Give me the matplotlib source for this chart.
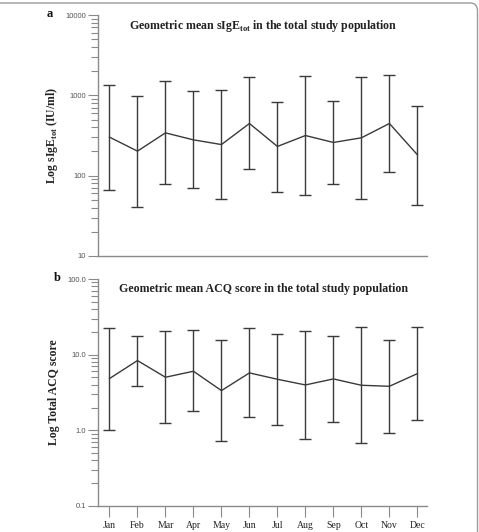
import matplotlib
matplotlib.use("Agg")
import matplotlib.pyplot as plt
from matplotlib.patches import FancyBboxPatch
from matplotlib.ticker import LogLocator, NullFormatter

plt.rcParams['mathtext.fontset'] = 'custom'
plt.rcParams['mathtext.rm'] = 'Liberation Serif:bold'
plt.rcParams['mathtext.bf'] = 'Liberation Serif:bold'

months = ["Jan", "Feb", "Mar", "Apr", "May", "Jun", "Jul", "Aug", "Sep", "Oct", "Nov", "Dec"]

# geometric mean sIgE_tot with lower / upper bounds (IU/ml)
ige_mean = [302, 202, 341, 279, 244, 446, 231, 316, 259, 296, 446, 182]
ige_low = [65.5, 40.3, 78.5, 70, 50.7, 119.5, 62.5, 56.8, 78.5, 50.7, 110, 42.7]
ige_high = [1362, 985, 1513, 1148, 1159, 1680, 837, 1730, 853, 1680, 1815, 747]

# geometric mean ACQ score with lower / upper bounds
acq_mean = [4.83, 8.36, 5.03, 6.04, 3.35, 5.74, 4.73, 3.98, 4.78, 3.94, 3.82, 5.62]
acq_low = [1.0, 3.86, 1.25, 1.78, 0.713, 1.48, 1.19, 0.773, 1.30, 0.67, 0.92, 1.38]
acq_high = [22.4, 17.7, 20.3, 20.9, 15.4, 22.2, 18.5, 20.5, 17.4, 23.4, 15.7, 23.1]

ige_ticks = [10, 100, 1000, 10000]
ige_ticklabels = ["10", "100", "1000", "10000"]
acq_ticks = [0.1, 1, 10, 100]
acq_ticklabels = ["0.1", "1.0", "10.0", "100.0"]

W, H = 479, 532
fig = plt.figure(figsize=(W / 100, H / 100), dpi=100)

line_col = "#3a3a3a"
axis_col = "#8a8a8a"
serif = "Liberation Serif"


def panel(rect, mean, low, high, ticks, ticklabels, title, ylabel, show_x):
    ax = fig.add_axes(rect)
    x = list(range(len(months)))
    yerr = [[m - l for m, l in zip(mean, low)], [h - m for m, h in zip(mean, high)]]
    ax.errorbar(x, mean, yerr=yerr, color=line_col, lw=1.0, elinewidth=1.0,
                capsize=4.5, capthick=1.0)
    ax.set_yscale("log")
    ax.set_ylim(ticks[0], ticks[-1])
    ax.set_xlim(-0.42, 11.35)
    ax.set_yticks(ticks)
    ax.set_yticklabels(ticklabels, family="Liberation Sans", fontsize=5.5, color="#555555")
    ax.yaxis.set_minor_locator(LogLocator(base=10, subs=range(2, 10)))
    ax.yaxis.set_minor_formatter(NullFormatter())
    ax.tick_params(axis="y", which="major", length=7, width=0.8, color=axis_col, pad=1.5)
    ax.tick_params(axis="y", which="minor", length=5, width=0.8, color=axis_col)
    for s in ["top", "right"]:
        ax.spines[s].set_visible(False)
    for s in ["left", "bottom"]:
        ax.spines[s].set_color(axis_col)
        ax.spines[s].set_linewidth(1.0)
    ax.set_xticks(x)
    if show_x:
        ax.set_xticklabels(months, family=serif, fontsize=7, color="#222222")
        ax.tick_params(axis="x", length=8, width=0.8, color=axis_col, pad=3)
    else:
        ax.tick_params(axis="x", length=0, labelbottom=False)
    ax.text(0.502, 0.955, title, transform=ax.transAxes, family=serif,
            fontweight="bold", fontsize=8.6, color="#222222", ha="center", va="center")
    ax.set_ylabel(ylabel, family=serif, fontweight="bold", fontsize=8.5, color="#222222")
    ax.yaxis.set_label_coords(-0.115, 0.5)
    return ax


panel([97.7 / W, 1 - 256 / H, 329.5 / W, 241 / H], ige_mean, ige_low, ige_high,
      ige_ticks, ige_ticklabels,
      r"Geometric mean sIgE$_{\mathrm{tot}}$ in the total study population",
      r"Log sIgE$_{\mathrm{tot}}$ (IU/ml)", False)
panel([97.7 / W, 1 - 506 / H, 329.5 / W, 227 / H], acq_mean, acq_low, acq_high,
      acq_ticks, acq_ticklabels,
      "Geometric mean ACQ score in the total study population",
      "Log Total ACQ score", True)

fig.text(50 / W, 1 - 14 / H, "a", family=serif, fontweight="bold", fontsize=9,
         ha="center", va="center", color="#111111")
fig.text(57 / W, 1 - 278 / H, "b", family=serif, fontweight="bold", fontsize=9,
         ha="center", va="center", color="#111111")

# rounded frame around the figure
frame = FancyBboxPatch((-10 / W, -10 / H), (477.5 + 10) / W, (H - 3 + 10) / H,
                       boxstyle="round,pad=0,rounding_size=0.015",
                       transform=fig.transFigure, fill=False,
                       edgecolor="#9a9a9a", lw=1.0)
fig.patches.append(frame)

fig.savefig("out.png", dpi=100)
